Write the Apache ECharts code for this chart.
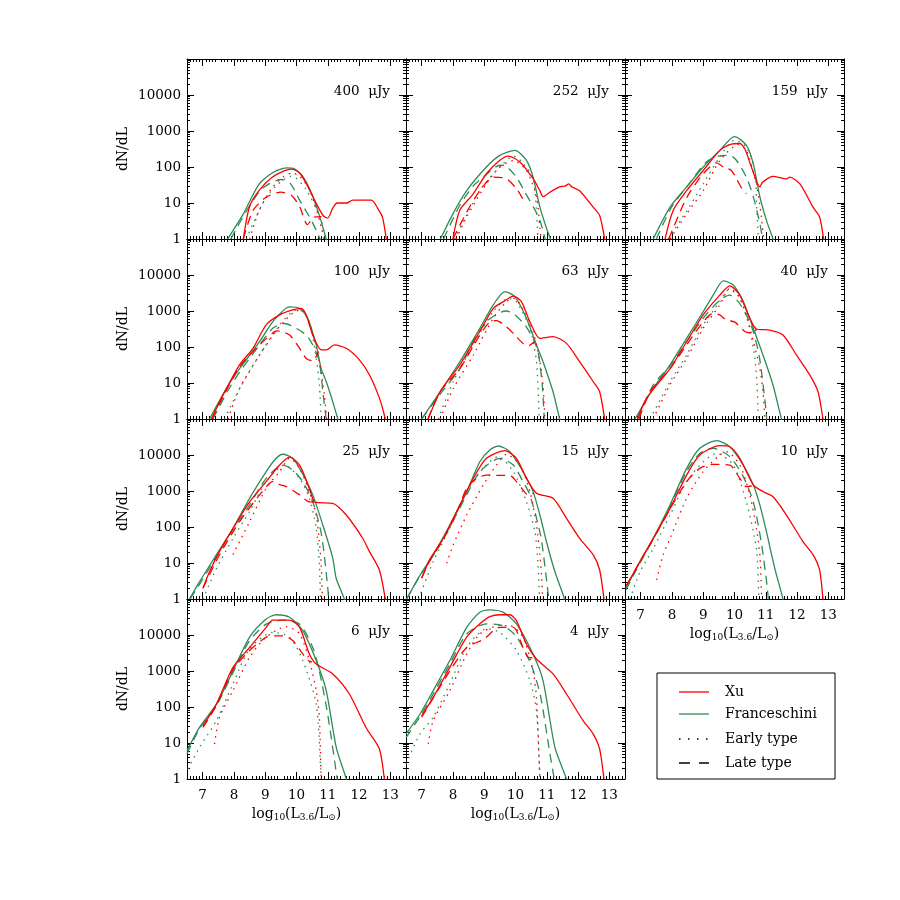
<!DOCTYPE html>
<html>
<head>
<meta charset="utf-8">
<script src="https://cdn.jsdelivr.net/npm/echarts@6/dist/echarts.min.js"></script>
<style>html,body{margin:0;padding:0;background:#fff}#chart{width:900px;height:900px}</style>
</head>
<body>
<div id="chart"></div>
<script>
// 面板标签 (flux limits)
var fluxLabels = ['400', '252', '159', '100', '63', '40', '25', '15', '10', '6', '4'];
var xTickValues = [7, 8, 9, 10, 11, 12, 13];

// 400 uJy
var fr_400 = [[7.8,1],[8.3,5],[8.8,33],[9.3,75],[9.7,95],[9.9,92],[10.2,55],[10.5,17],[10.75,4],[10.95,1],[11.05,0.5]];
var frE_400 = [[8.4,1],[8.7,4],[9.05,15],[9.4,33],[9.8,55],[10.0,48],[10.3,24],[10.6,8],[10.8,3],[10.92,1],[10.97,0.5]];
var frL_400 = [[7.9,1],[8.4,6],[8.9,25],[9.5,45],[9.8,35],[10.1,12],[10.5,3],[10.75,1],[10.85,0.5]];
var xu_400 = [[8.3,1],[8.5,8],[8.8,22],[9.2,50],[9.6,78],[9.85,87],[10.1,68],[10.35,30],[10.6,11],[10.85,4.5],[11.0,3.8],[11.15,7],[11.3,10],[11.6,10],[11.8,12],[12.1,12],[12.4,12],[12.6,7],[12.75,4],[12.87,1],[12.92,0.5]];
var xuE_400 = [[8.5,1],[8.8,6],[9.2,25],[9.6,55],[9.85,68],[10.1,55],[10.4,25],[10.65,6],[10.8,2],[10.87,1],[10.9,0.5]];
var xuL_400 = [[8.3,1],[8.6,6],[9.0,14],[9.5,20],[9.85,16],[10.1,8],[10.35,2.5],[10.55,4],[10.8,4.2]];

// 252 uJy
var fr_252 = [[7.6,1],[8.0,5],[8.44,22],[9.07,100],[9.5,210],[9.98,290],[10.35,153],[10.56,53],[10.78,7.7],[10.99,2],[11.12,1],[11.2,0.5]];
var frE_252 = [[8.05,1],[8.4,4],[8.9,25],[9.5,100],[9.93,200],[10.2,140],[10.56,50],[10.67,6],[10.72,1],[10.75,0.5]];
var frL_252 = [[7.7,1],[8.2,8],[8.65,30],[9.0,55],[9.5,112],[9.65,110],[10.03,52],[10.3,20],[10.6,7],[10.78,3.3],[10.95,1],[11.05,0.5]];
var xu_252 = [[8.0,1],[8.22,6.3],[8.65,18],[9.07,65],[9.5,154],[9.77,200],[10.14,138],[10.56,48],[10.78,22],[10.88,15],[11.1,20],[11.41,28],[11.6,30],[11.7,34],[11.8,28],[12.05,22],[12.48,7.7],[12.69,4.5],[12.85,1],[12.9,0.5]];
var xuE_252 = [[8.1,1],[8.44,4.1],[9.07,34],[9.5,100],[9.93,150],[10.35,80],[10.67,15],[10.78,2],[10.82,1],[10.85,0.5]];
var xuL_252 = [[8.0,1],[8.44,5.6],[8.86,22],[9.29,52],[9.7,48],[10.03,25],[10.24,13],[10.35,9.6]];

// 159 uJy
var fr_159 = [[7.4,1],[7.94,7.7],[8.47,28],[9.0,100],[9.53,290],[10.0,700],[10.38,400],[10.6,124],[10.81,15],[11.02,3.3],[11.23,1],[11.3,0.5]];
var frE_159 = [[7.88,1],[8.47,6],[9.0,34],[9.53,190],[10.0,550],[10.38,360],[10.65,80],[10.7,12],[10.76,1],[10.78,0.5]];
var frL_159 = [[7.5,1],[8.0,8],[8.5,30],[9.1,138],[9.5,200],[9.85,210],[10.06,154],[10.38,52],[10.6,15],[10.81,2.7],[10.9,1],[10.95,0.5]];
var xu_159 = [[7.78,1],[8.04,6.2],[8.47,22],[9.0,80],[9.53,290],[9.85,420],[10.17,450],[10.33,320],[10.54,100],[10.81,28],[10.9,38],[11.23,55],[11.66,47],[11.77,52],[12.09,34],[12.51,7.7],[12.72,4.1],[12.85,1],[12.9,0.5]];
var xuE_159 = [[7.94,1],[8.47,5],[9.0,22],[9.53,150],[10.12,420],[10.38,290],[10.7,34],[10.86,4],[10.93,1],[10.96,0.5]];
var xuL_159 = [[7.9,1],[8.47,14],[9.0,65],[9.43,130],[9.64,100],[9.9,80],[10.06,47],[10.28,22],[10.38,18]];

// 100 uJy
var fr_100 = [[7.22,1],[7.76,7.1],[8.18,25],[8.82,140],[9.24,500],[9.78,1300],[10.1,1180],[10.36,630],[10.63,114],[10.79,25],[10.95,11],[11.16,3],[11.32,1],[11.4,0.5]];
var frE_100 = [[7.7,1],[8.18,7],[8.82,60],[9.46,410],[9.99,1070],[10.1,1070],[10.41,500],[10.63,48],[10.73,9],[10.79,1],[10.82,0.5]];
var frL_100 = [[7.33,1],[7.8,6],[8.18,20],[8.82,114],[9.24,330],[9.62,450],[9.99,330],[10.31,215],[10.52,114],[10.73,39],[10.85,5],[10.95,1],[11.0,0.5]];
var xu_100 = [[7.28,1],[7.65,4.6],[8.18,32],[8.61,92],[9.03,410],[9.46,780],[9.88,1070],[10.15,1180],[10.31,780],[10.52,215],[10.79,83],[10.95,83],[11.21,114],[11.59,92],[12.01,44],[12.33,17],[12.65,3.8],[12.84,1],[12.9,0.5]];
var xuE_100 = [[7.81,1],[8.18,7],[8.82,60],[9.46,370],[9.88,870],[10.15,1100],[10.41,450],[10.73,39],[10.89,4.6],[10.97,1],[11.0,0.5]];
var xuL_100 = [[7.3,1],[7.7,5],[8.18,28],[8.82,114],[9.3,270],[9.4,280],[9.78,215],[10.1,92],[10.31,48],[10.52,41],[10.7,75]];

// 63 uJy
var fr_63 = [[7.0,1],[7.59,5.7],[8.22,39],[8.86,330],[9.29,1480],[9.66,3470],[9.98,2500],[10.35,630],[10.67,114],[10.88,39],[11.2,5.7],[11.41,1],[11.5,0.5]];
var frE_63 = [[7.53,1],[8.01,11],[8.65,114],[9.29,960],[9.77,2240],[10.03,1820],[10.46,330],[10.67,39],[10.76,1],[10.78,0.5]];
var frL_63 = [[7.0,1],[7.6,5],[8.22,25],[8.6,120],[9.07,500],[9.5,910],[9.71,1000],[9.98,780],[10.3,410],[10.56,174],[10.72,74],[10.85,10],[10.92,1],[10.95,0.5]];
var xu_63 = [[7.21,1],[7.59,5.7],[8.22,32],[8.86,270],[9.29,1180],[9.61,1820],[9.93,2600],[10.19,1820],[10.46,500],[10.78,174],[11.2,195],[11.63,126],[12.05,39],[12.48,11],[12.69,5.7],[12.85,1],[12.9,0.5]];
var xuE_63 = [[7.59,1],[8.01,7],[8.65,60],[9.29,630],[9.71,1820],[9.93,2240],[10.24,1180],[10.56,270],[10.78,39],[10.88,8.8],[10.94,1],[10.97,0.5]];
var xuL_63 = [[7.2,1],[7.59,5.7],[8.22,25],[8.86,215],[9.18,500],[9.39,540],[9.71,365],[9.98,215],[10.24,126],[10.4,107],[10.6,140]];

// 40 uJy
var fr_40 = [[6.82,1],[7.4,7],[7.94,32],[8.47,174],[9.0,960],[9.32,2760],[9.64,6900],[9.96,5250],[10.28,1820],[10.6,330],[10.91,60],[11.23,8.8],[11.5,1],[11.6,0.5]];
var frE_40 = [[7.3,1],[7.94,11],[8.47,60],[9.0,410],[9.53,1820],[9.8,3800],[10.12,2760],[10.44,500],[10.65,48],[10.72,9],[10.76,1],[10.78,0.5]];
var frL_40 = [[6.9,1],[7.4,8.8],[7.94,30],[8.47,140],[9.0,630],[9.53,2000],[9.85,2760],[10.12,1820],[10.38,780],[10.6,270],[10.8,50],[11.0,2],[11.05,0.5]];
var xu_40 = [[6.9,1],[7.19,3.8],[7.94,25],[8.47,140],[9.0,780],[9.53,2760],[9.85,5000],[10.17,2760],[10.44,780],[10.7,316],[11.13,295],[11.55,215],[11.98,60],[12.4,17],[12.67,5.7],[12.83,1],[12.9,0.5]];
var xuE_40 = [[7.4,1],[7.94,9],[8.47,48],[9.0,330],[9.53,1480],[9.85,4260],[10.17,2240],[10.49,330],[10.81,25],[10.91,5.7],[10.97,1],[11.0,0.5]];
var xuL_40 = [[6.95,1],[7.3,5.7],[7.94,25],[8.47,114],[9.0,500],[9.32,870],[9.53,780],[9.74,560],[10.01,490],[10.33,270],[10.6,240],[10.7,316]];

// 25 uJy
var fr_25 = [[6.58,1],[6.9,3],[7.44,17],[7.97,92],[8.5,630],[9.03,3470],[9.35,8100],[9.56,10500],[9.88,8100],[10.2,2950],[10.52,780],[10.84,114],[11.16,13.5],[11.27,3.7],[11.53,1],[11.6,0.5]];
var frE_25 = [[7.01,1],[7.44,7],[7.97,48],[8.5,270],[9.03,1820],[9.62,5250],[10.1,2240],[10.41,630],[10.63,92],[10.73,9],[10.77,1],[10.8,0.5]];
var frL_25 = [[6.6,1],[6.95,3],[7.44,15],[7.97,85],[8.5,410],[9.03,2240],[9.56,5250],[9.88,3800],[10.2,1820],[10.52,500],[10.8,60],[11.0,2],[11.05,0.5]];
var xu_25 = [[7.01,2],[7.22,5.7],[7.54,21],[7.97,92],[8.5,500],[9.03,1820],[9.46,5250],[9.78,8700],[10.1,5250],[10.41,1180],[10.57,500],[10.73,475],[11.16,455],[11.59,215],[12.12,48],[12.33,21],[12.65,6.4],[12.84,1],[12.9,0.5]];
var xuE_25 = [[7.97,17],[8.5,140],[9.03,1180],[9.46,3470],[9.78,8100],[10.1,4260],[10.41,960],[10.63,215],[10.73,39],[10.79,9],[10.83,1],[10.85,0.5]];
var xuL_25 = [[7.01,2],[7.54,17],[8.18,140],[8.82,780],[9.24,1820],[9.4,1550],[9.67,1330],[10.1,780],[10.41,500],[10.57,500]];

// 15 uJy
var fr_15 = [[6.52,1],[6.95,4.6],[7.37,17],[7.9,114],[8.44,960],[8.86,6500],[9.18,13800],[9.45,17800],[9.82,12300],[10.24,3470],[10.56,960],[10.78,215],[10.99,39],[11.26,5.7],[11.57,1],[11.65,0.5]];
var frE_15 = [[6.9,1],[7.37,11],[7.9,92],[8.44,960],[8.97,4260],[9.45,9000],[9.93,3470],[10.35,500],[10.62,74],[10.72,8.8],[10.77,1],[10.8,0.5]];
var frL_15 = [[6.52,1],[6.95,4.5],[7.37,16],[7.9,100],[8.44,780],[8.86,3470],[9.5,8100],[9.93,5250],[10.24,1820],[10.46,780],[10.8,60],[11.0,3],[11.1,0.5]];
var xu_15 = [[7.0,3.8],[7.27,13],[7.69,48],[8.12,270],[8.65,2240],[9.07,8100],[9.66,13200],[10.03,8100],[10.35,2240],[10.67,870],[11.2,630],[11.63,174],[12.05,48],[12.48,17],[12.69,6.4],[12.83,1],[12.88,0.5]];
var xuE_15 = [[7.8,9.8],[8.01,32],[8.44,215],[8.97,1480],[9.39,5250],[9.71,10500],[10.14,5250],[10.46,960],[10.67,114],[10.78,17],[10.83,4.6],[10.87,1],[10.9,0.5]];
var xuL_15 = [[7.0,3.8],[7.27,12],[7.69,45],[8.12,250],[8.44,1180],[8.76,2240],[9.07,2760],[9.5,2700],[9.82,2700],[10.03,1820],[10.24,1070],[10.4,780],[10.6,870]];

// 10 uJy
var fr_10 = [[6.53,2],[6.98,11],[7.4,48],[7.94,410],[8.47,4260],[8.89,15400],[9.43,25000],[9.85,17000],[10.28,5250],[10.6,1480],[10.81,410],[11.02,74],[11.29,7],[11.55,1],[11.62,0.5]];
var frE_10 = [[6.66,1],[6.98,5.7],[7.4,25],[7.94,215],[8.47,1820],[9.0,6500],[9.43,11100],[9.96,5250],[10.38,500],[10.7,25],[10.78,1],[10.8,0.5]];
var frL_10 = [[6.53,1.8],[6.98,10],[7.4,45],[7.94,380],[8.47,3500],[8.89,11000],[9.32,15400],[9.85,9000],[10.28,2500],[10.6,500],[10.85,40],[11.05,2],[11.1,0.5]];
var xu_10 = [[6.55,2.4],[6.98,11],[7.4,48],[7.94,330],[8.47,2760],[8.89,10000],[9.53,18200],[9.85,17000],[10.17,8100],[10.6,1480],[10.91,960],[11.23,690],[11.66,215],[12.19,39],[12.51,17],[12.72,6.4],[12.83,1],[12.88,0.5]];
var xuE_10 = [[7.51,3.4],[7.72,17],[7.94,48],[8.47,630],[9.0,3470],[9.53,10000],[9.74,12300],[10.17,5250],[10.49,780],[10.7,92],[10.81,17],[10.85,3],[10.88,0.5]];
var xuL_10 = [[6.55,2.4],[6.98,11],[7.4,46],[7.94,320],[8.47,1820],[8.89,4260],[9.32,5500],[9.85,5250],[10.17,2240],[10.38,1320],[10.55,1400]];

// 6 uJy
var fr_6 = [[6.5,6.1],[6.9,27],[7.44,120],[7.97,1000],[8.5,8700],[9.03,27700],[9.35,36500],[9.78,31000],[10.2,13200],[10.63,1950],[10.95,285],[11.27,7.6],[11.59,1],[11.65,0.5]];
var frE_6 = [[6.53,1.9],[6.9,7.6],[7.44,42],[7.97,440],[8.5,4100],[9.24,11800],[9.78,8700],[10.2,1950],[10.63,120],[10.79,1],[10.82,0.5]];
var frL_6 = [[6.5,5],[6.9,25],[7.44,110],[7.97,900],[8.5,7000],[9.03,20000],[9.56,26000],[10.1,20000],[10.52,4500],[10.73,1000],[11.0,60],[11.3,1],[11.35,0.5]];
var xu_6 = [[7.01,30],[7.44,120],[7.97,1260],[8.5,4500],[9.03,16300],[9.24,26000],[9.78,26000],[10.1,16300],[10.41,2970],[10.63,1560],[11.16,830],[11.69,230],[12.22,27],[12.65,6.8],[12.81,1],[12.86,0.5]];
var xuE_6 = [[7.38,9.4],[7.54,52],[7.97,285],[8.5,2400],[9.03,8700],[9.67,17000],[10.1,10700],[10.41,1950],[10.63,285],[10.73,52],[10.79,1],[10.82,0.5]];
var xuL_6 = [[7.01,27],[7.44,110],[7.97,1100],[8.5,3700],[9.03,8700],[9.3,9500],[9.56,9500],[9.88,7000],[10.2,2970],[10.36,1950],[10.5,1800]];

// 4 uJy
var fr_4 = [[6.5,18],[6.95,64],[7.37,285],[7.9,1950],[8.44,16300],[8.86,42700],[9.18,50000],[9.61,42700],[10.03,20400],[10.56,2970],[10.88,540],[11.26,7.6],[11.63,1],[11.7,0.5]];
var frE_4 = [[6.5,2.6],[6.95,18],[7.37,52],[7.9,440],[8.44,4500],[9.07,14700],[9.5,11800],[10.03,3700],[10.46,540],[10.67,79],[10.78,1],[10.8,0.5]];
var frL_4 = [[6.5,14],[6.95,55],[7.37,230],[7.9,1560],[8.44,10700],[9.07,20400],[9.6,18000],[10.03,9000],[10.5,1500],[10.8,200],[11.1,5],[11.3,0.5]];
var xu_4 = [[7.0,57],[7.37,185],[7.9,1260],[8.44,8700],[8.86,20400],[9.18,32400],[9.5,36500],[9.82,36500],[10.03,25000],[10.35,5600],[10.67,2150],[11.2,830],[11.63,230],[12.16,42],[12.48,18],[12.69,6.8],[12.83,1],[12.88,0.5]];
var xuE_4 = [[7.21,9.4],[7.37,42],[7.9,285],[8.44,2970],[8.86,10700],[9.5,18200],[9.82,18200],[10.24,8700],[10.56,1000],[10.67,185],[10.78,1],[10.8,0.5]];
var xuL_4 = [[7.0,52],[7.9,1000],[8.44,4500],[8.97,7500],[9.5,16300],[9.93,16300],[10.24,4500],[10.4,2400],[10.55,2300]];

var panelData = [
  [fr_400, frE_400, frL_400, xu_400, xuE_400, xuL_400],
  [fr_252, frE_252, frL_252, xu_252, xuE_252, xuL_252],
  [fr_159, frE_159, frL_159, xu_159, xuE_159, xuL_159],
  [fr_100, frE_100, frL_100, xu_100, xuE_100, xuL_100],
  [fr_63, frE_63, frL_63, xu_63, xuE_63, xuL_63],
  [fr_40, frE_40, frL_40, xu_40, xuE_40, xuL_40],
  [fr_25, frE_25, frL_25, xu_25, xuE_25, xuL_25],
  [fr_15, frE_15, frL_15, xu_15, xuE_15, xuL_15],
  [fr_10, frE_10, frL_10, xu_10, xuE_10, xuL_10],
  [fr_6, frE_6, frL_6, xu_6, xuE_6, xuL_6],
  [fr_4, frE_4, frL_4, xu_4, xuE_4, xuL_4]
];

(function(){
  var RED = '#ff0000', GREEN = '#2e8b57';
  var FONT = 'DejaVu Serif';
  var DOT = [1.5, 5], DASH = [9, 6];
  var styles = [
    {color: GREEN, type: 'solid'},
    {color: GREEN, type: DOT},
    {color: GREEN, type: DASH},
    {color: RED, type: 'solid'},
    {color: RED, type: DOT},
    {color: RED, type: DASH}
  ];
  var left0 = 187, top0 = 59, pw = 219, ph = 180;
  var xName = 'log{s|10}(L{s|3.6}/L{s|⊙})';
  var grid = [], xAxis = [], yAxis = [], series = [], graphic = [];
  var blackLine = {show: true, onZero: false, lineStyle: {color: '#000', width: 1}};

  for (var i = 0; i < panelData.length; i++) {
    var r = Math.floor(i / 3), c = i % 3;
    var L = left0 + pw * c, T = top0 + ph * r;
    var showX = (i >= 8);
    var showY = (c === 0);
    grid.push({left: L, top: T, width: pw, height: ph});
    // bottom x
    xAxis.push({
      type: 'value', gridIndex: i, position: 'bottom', min: 6.5, max: 13.5, interval: 0.5,
      axisLine: blackLine,
      axisTick: {show: true, inside: true, length: 7, customValues: xTickValues, lineStyle: {color: '#000'}},
      minorTick: {show: true, splitNumber: 5, length: 3, lineStyle: {color: '#000'}},
      axisLabel: {show: showX, customValues: xTickValues, margin: 9, fontFamily: FONT, fontSize: 13.5, color: '#000',
        formatter: function(v){ return Math.abs(v - Math.round(v)) < 1e-6 ? String(Math.round(v)) : ''; }},
      splitLine: {show: false},
      name: showX ? xName : '', nameLocation: 'middle', nameGap: 27,
      nameTextStyle: {fontFamily: FONT, fontSize: 14, color: '#000',
        rich: {s: {fontFamily: FONT, fontSize: 9, color: '#000', padding: [7, 0, 0, 0]}}}
    });
    // top x (ticks only)
    xAxis.push({
      type: 'value', gridIndex: i, position: 'top', min: 6.5, max: 13.5, interval: 0.5,
      axisLine: blackLine,
      axisTick: {show: true, inside: true, length: 7, customValues: xTickValues, lineStyle: {color: '#000'}},
      minorTick: {show: true, splitNumber: 5, length: 3, lineStyle: {color: '#000'}},
      axisLabel: {show: false}, splitLine: {show: false}
    });
    // left y
    yAxis.push({
      type: 'log', logBase: 10, gridIndex: i, position: 'left', min: 1, max: 100000,
      axisLine: blackLine,
      axisTick: {show: true, inside: true, length: 7, lineStyle: {color: '#000'}},
      minorTick: {show: true, splitNumber: 9, length: 3, lineStyle: {color: '#000'}},
      axisLabel: {show: showY, margin: 6, fontFamily: FONT, fontSize: 13.5, color: '#000',
        formatter: function(v){ return v >= 99999 ? '' : String(Math.round(v)); }},
      splitLine: {show: false},
      name: showY ? 'dN/dL' : '', nameLocation: 'middle', nameGap: 57, nameRotate: 90,
      nameTextStyle: {fontFamily: FONT, fontSize: 14, color: '#000'}
    });
    // right y (ticks only)
    yAxis.push({
      type: 'log', logBase: 10, gridIndex: i, position: 'right', min: 1, max: 100000,
      axisLine: blackLine,
      axisTick: {show: true, inside: true, length: 7, lineStyle: {color: '#000'}},
      minorTick: {show: true, splitNumber: 9, length: 3, lineStyle: {color: '#000'}},
      axisLabel: {show: false}, splitLine: {show: false}
    });
    for (var k = 0; k < 6; k++) {
      series.push({
        type: 'line', xAxisIndex: 2 * i, yAxisIndex: 2 * i, data: panelData[i][k],
        showSymbol: false, smooth: 0.25, clip: true, silent: true,
        lineStyle: {color: styles[k].color, type: styles[k].type, width: 1.3}
      });
    }
    graphic.push({
      type: 'text', x: L + pw - 16, y: T + 32, z: 10,
      style: {text: fluxLabels[i] + '  \u03bcJy', align: 'right', verticalAlign: 'middle',
        font: '13.5px "' + FONT + '"', fill: '#000'}
    });
  }

  // 图例 legend box
  var lx = 657, ly = 673;
  graphic.push({type: 'rect', shape: {x: lx, y: ly, width: 178, height: 106},
    style: {fill: '#fff', stroke: '#000', lineWidth: 1}});
  var legendItems = [
    {name: 'Xu', color: RED, dash: null, y: 692},
    {name: 'Franceschini', color: GREEN, dash: null, y: 714},
    {name: 'Early type', color: '#000', dash: [1.5, 7.5], y: 739},
    {name: 'Late type', color: '#000', dash: [11, 9], y: 763}
  ];
  legendItems.forEach(function(it){
    graphic.push({type: 'line', shape: {x1: 679, y1: it.y, x2: 709, y2: it.y},
      style: {stroke: it.color, lineWidth: 1.3, lineDash: it.dash}});
    graphic.push({type: 'text', x: 725, y: it.y,
      style: {text: it.name, align: 'left', verticalAlign: 'middle', font: '14px "' + FONT + '"', fill: '#000'}});
  });

  var myChart = echarts.init(document.getElementById('chart'));
  myChart.setOption({
    animation: false,
    backgroundColor: '#fff',
    grid: grid, xAxis: xAxis, yAxis: yAxis, series: series, graphic: graphic
  });
})();
</script>
</body>
</html>
